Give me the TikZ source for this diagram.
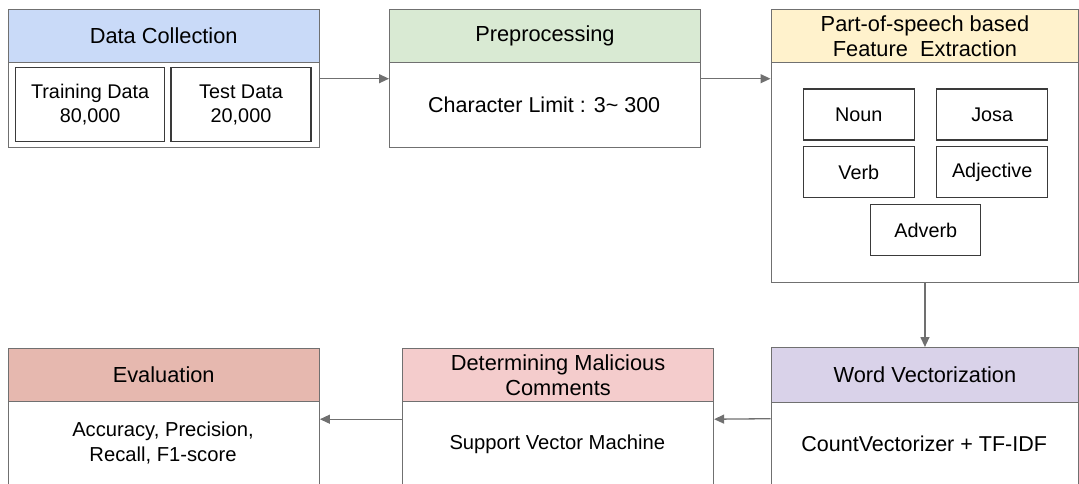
\documentclass[tikz,border=0pt]{standalone}
\usepackage{fontspec}
\setmainfont{Liberation Sans}
\usetikzlibrary{arrows.meta}

\definecolor{edgegray}{HTML}{707070}
\definecolor{boxdark}{HTML}{3A3A3A}
\definecolor{hdblue}{HTML}{C9DAF8}
\definecolor{hdgreen}{HTML}{D9EAD3}
\definecolor{hdyellow}{HTML}{FFF2CC}
\definecolor{hdlilac}{HTML}{D9D2E9}
\definecolor{hdpink}{HTML}{F4CCCC}
\definecolor{hdred}{HTML}{E6B8AF}

\tikzset{
  stage/.style={draw=edgegray, line width=1.4pt, fill=white, anchor=north west, inner sep=0pt},
  head/.style={stage, align=center, font=\fontsize{21.8}{25}\selectfont},
  body/.style={align=center, inner sep=0pt, font=\fontsize{21.5}{25}\selectfont},
  item/.style={draw=boxdark, line width=1.3pt, align=center, inner sep=0pt, font=\fontsize{19.8}{23.5}\selectfont},
  flow/.style={-{Triangle[length=10pt,width=9pt]}, draw=edgegray, line width=1.3pt}
}

\begin{document}
\begin{tikzpicture}[x=1pt, y=-1pt]

  %% ==== top row ====
  \node[stage, minimum width=311pt, minimum height=138pt] (dc) at (7.5,9) {};
  \node[head, fill=hdblue, minimum width=311pt, minimum height=53pt] (dch) at (7.5,9) {Data Collection};
  \node[item, minimum width=149pt, minimum height=74pt] (train) at (90.1,104.8) {Training Data\\80,000};
  \node[item, minimum width=140pt, minimum height=74pt] (test) at (241.0,104.8) {Test Data\\20,000};

  \node[stage, minimum width=310.5pt, minimum height=138pt] (pp) at (389,9) {};
  \node[head, fill=hdgreen, minimum width=310.5pt, minimum height=53pt] (pph) at (389,9) {Preprocessing};
  \node[body] (pptxt) at (544.2,104.5) {Character Limit : 3\char`~{} 300};

  \node[stage, minimum width=307.5pt, minimum height=272.5pt] (pos) at (770.5,9) {};
  \node[head, fill=hdyellow, minimum width=307.5pt, minimum height=53pt] (posh) at (770.5,9) {Part-of-speech based\\Feature\ \ Extraction};
  \node[item, minimum width=111pt, minimum height=51pt] (noun) at (858.8,114.5) {Noun};
  \node[item, minimum width=111pt, minimum height=51pt] (josa) at (992.2,114.5) {Josa};
  \node[item, minimum width=111pt, minimum height=51pt] (verb) at (858.8,172.3) {Verb};
  \node[item, minimum width=111pt, minimum height=51pt] (adj) at (992.2,172.3) {Adjective};
  \node[item, minimum width=110pt, minimum height=51pt] (adv) at (925.8,230.2) {Adverb};

  %% ==== bottom row (cut by the page edge) ====
  \node[stage, minimum width=307.5pt, minimum height=142pt] (wv) at (770.5,347) {};
  \node[head, fill=hdlilac, minimum width=307.5pt, minimum height=54.7pt] (wvh) at (770.5,347) {Word Vectorization};
  \node[body] (wvtxt) at (924.2,444) {CountVectorizer + TF-IDF};

  \node[stage, minimum width=310.7pt, minimum height=142pt] (mc) at (402,347.5) {};
  \node[head, fill=hdpink, minimum width=310.7pt, minimum height=53.5pt] (mch) at (402,347.5) {Determining Malicious\\Comments};
  \node[body, font=\fontsize{20.2}{25}\selectfont] (mctxt) at (557.3,444) {Support Vector Machine};

  \node[stage, minimum width=311pt, minimum height=142pt] (ev) at (7.5,347.5) {};
  \node[head, fill=hdred, minimum width=311pt, minimum height=53.5pt] (evh) at (7.5,347.5) {Evaluation};
  \node[body, font=\fontsize{20.2}{25}\selectfont] (evtxt) at (163,442.5) {Accuracy, Precision,\\Recall, F1-score};

  %% ==== connectors ====
  \draw[flow] (dc.east) -- (pp.west);
  \draw[flow] (pp.east) -- (pp.east -| pos.west);
  \draw[flow] (pos.south) -- (wv.north);
  \draw[flow] (wv.west) -- (mc.east);
  \draw[flow] (mc.west) -- (ev.east);

  \pgfresetboundingbox
  \path[use as bounding box] (0,0) rectangle (1079,483);
\end{tikzpicture}
\end{document}
